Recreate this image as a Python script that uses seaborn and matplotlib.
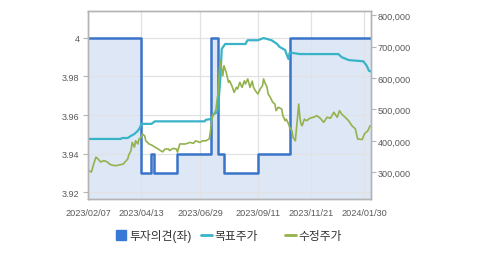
import matplotlib
matplotlib.use("Agg")
import matplotlib.pyplot as plt
from matplotlib.lines import Line2D
from matplotlib.ticker import FuncFormatter, FixedLocator
import seaborn as sns
import pandas as pd

# ---------------- data ----------------
# x = trading-day number since 2023/02/07
tick_idx = [0, 47, 99, 150, 197, 244]
tick_labels = ["2023/02/07", "2023/04/13", "2023/06/29", "2023/09/11", "2023/11/21", "2024/01/30"]

opinion_idx = [0, 47, 56, 58, 79, 109, 115, 120, 150, 178, 250]
opinion_val = [4.00, 3.93, 3.94, 3.93, 3.94, 4.00, 3.94, 3.93, 3.94, 4.00, 4.00]

target_idx = [0, 29, 30, 35, 38, 41, 44, 46, 47, 56, 59, 103, 104, 108, 111, 114, 115, 117, 118, 121,
              139, 140, 141, 150, 155, 162, 167, 169, 174, 175, 177, 178, 187, 221, 224, 230, 243, 246, 248, 250]
target_val = [406, 406, 409, 409, 416, 422, 432, 443, 454, 454, 462, 462, 467, 469, 485, 491, 512, 607, 692, 708,
              708, 715, 720, 720, 727, 720, 708, 699, 689, 678, 660, 681, 676, 676, 666, 657, 653, 639, 623, 620]  # thousand KRW

price_idx = [0, 3, 5, 7, 9, 11, 12, 14, 17, 19, 22, 25, 27, 31, 33, 35, 36, 38, 39, 41, 42, 44, 45, 47, 48, 50, 51,
             54, 57, 59, 62, 64, 66, 68, 71, 72, 75, 78, 79, 81, 86, 90, 93, 95, 99, 101, 104, 107, 108, 109, 110,
             112, 113, 114, 115, 116, 117, 118, 119, 120, 122, 124, 125, 127, 129, 131, 132, 134, 136, 138, 139, 141,
             143, 145, 146, 148, 150, 152, 154, 155, 156, 158, 159, 161, 163, 165, 166, 168, 171, 172, 174, 175, 177,
             178, 180, 181, 183, 184, 186, 187, 188, 189, 191, 193, 196, 199, 202, 205, 208, 209, 211, 214, 217, 218,
             220, 222, 224, 227, 230, 233, 236, 238, 242, 244, 247, 249]
price_val = [305, 301, 326, 348, 342, 333, 334, 337, 333, 326, 322, 321, 323, 326, 334, 342, 355, 369, 395, 380, 400,
             390, 406, 411, 422, 416, 400, 390, 385, 380, 374, 369, 365, 374, 374, 369, 376, 374, 364, 390, 390, 395,
             392, 400, 395, 400, 400, 406, 428, 459, 480, 491, 501, 533, 555, 628, 655, 628, 607, 639, 618, 586, 591,
             575, 554, 570, 565, 586, 570, 591, 581, 597, 570, 590, 571, 558, 549, 565, 575, 597, 586, 571, 549, 538,
             523, 517, 496, 507, 501, 480, 464, 469, 454, 443, 432, 411, 400, 438, 517, 475, 454, 448, 469, 464, 472,
             475, 480, 472, 459, 464, 475, 472, 491, 485, 475, 496, 485, 475, 464, 448, 438, 406, 404, 422, 432, 448]

legend_labels = ["투자의견(좌)", "목표주가", "수정주가"]

# ---------------- style ----------------
sns.set_style("white")
plt.rcParams["font.family"] = ["Liberation Sans", "Noto Sans CJK KR", "DejaVu Sans"]

BLUE = "#3a74c9"
FILL = "#dde7f6"
CYAN = "#38b3c8"
GREEN = "#93b24c"
GRID = "#e2e2e2"
SPINE = "#b4b4b4"
TXT = "#555555"

fig = plt.figure(figsize=(4.79, 2.55), dpi=100)
ax = fig.add_axes([88 / 479, 55 / 255, 283 / 479, 188 / 255])
ax.set_axisbelow("line")

op = pd.DataFrame({"x": opinion_idx, "y": opinion_val})
tg = pd.DataFrame({"x": target_idx, "y": target_val})
pr = pd.DataFrame({"x": price_idx, "y": price_val})

ax.fill_between(op["x"], op["y"], 3.90, step="post", color=FILL, lw=0, zorder=1)
sns.lineplot(data=op, x="x", y="y", ax=ax, color=BLUE, lw=1.8, drawstyle="steps-post",
             estimator=None, sort=False, zorder=2)

ax.set_xlim(0, 249.8)
ax.set_ylim(3.9164, 4.014)
ax.set_yticks([3.92, 3.94, 3.96, 3.98, 4.00])
ax.set_yticklabels(["3.92", "3.94", "3.96", "3.98", "4"])
ax.set_xticks(tick_idx)
ax.set_xticklabels(tick_labels)
ax.grid(True, color=GRID, lw=0.9)
ax.set_xlabel("")
ax.set_ylabel("")

ax2 = ax.twinx()
sns.lineplot(data=tg, x="x", y="y", ax=ax2, color=CYAN, lw=1.6, estimator=None, sort=False)
sns.lineplot(data=pr, x="x", y="y", ax=ax2, color=GREEN, lw=1.2, estimator=None, sort=False)
ax2.set_ylim(215, 813)
ax2.yaxis.set_major_locator(FixedLocator([300, 400, 500, 600, 700, 800]))
ax2.yaxis.set_major_formatter(FuncFormatter(lambda v, p: f"{v * 1000:,.0f}"))
ax2.set_ylabel("")
ax2.grid(False)
ax2.set_xlim(0, 249.8)

for a in (ax, ax2):
    for s in a.spines.values():
        s.set_color(SPINE)
        s.set_linewidth(1.0)
    a.tick_params(colors="#5a5a5a", labelsize=6.6, length=3.5, width=0.8, color=SPINE)
ax.tick_params(axis="y", pad=2.5)
ax.tick_params(axis="x", pad=3)
ax2.tick_params(axis="y", pad=1.5)

handles = [
    Line2D([], [], marker="s", linestyle="none", markersize=6.8, markerfacecolor="#3a78d6", markeredgecolor="#3a78d6"),
    Line2D([], [], color=CYAN, lw=2),
    Line2D([], [], color=GREEN, lw=2),
]
leg_x = [116 / 479, 201 / 479, 285 / 479]
for h, lab, lx in zip(handles, legend_labels, leg_x):
    lg = fig.legend([h], [lab], loc="center left", bbox_to_anchor=(lx, 0.072), frameon=False,
                    fontsize=8.5, handlelength=0.9, handletextpad=0.25, borderpad=0, borderaxespad=0)
    for t in lg.get_texts():
        t.set_color("#333333")

fig.savefig("out.png", dpi=100)
